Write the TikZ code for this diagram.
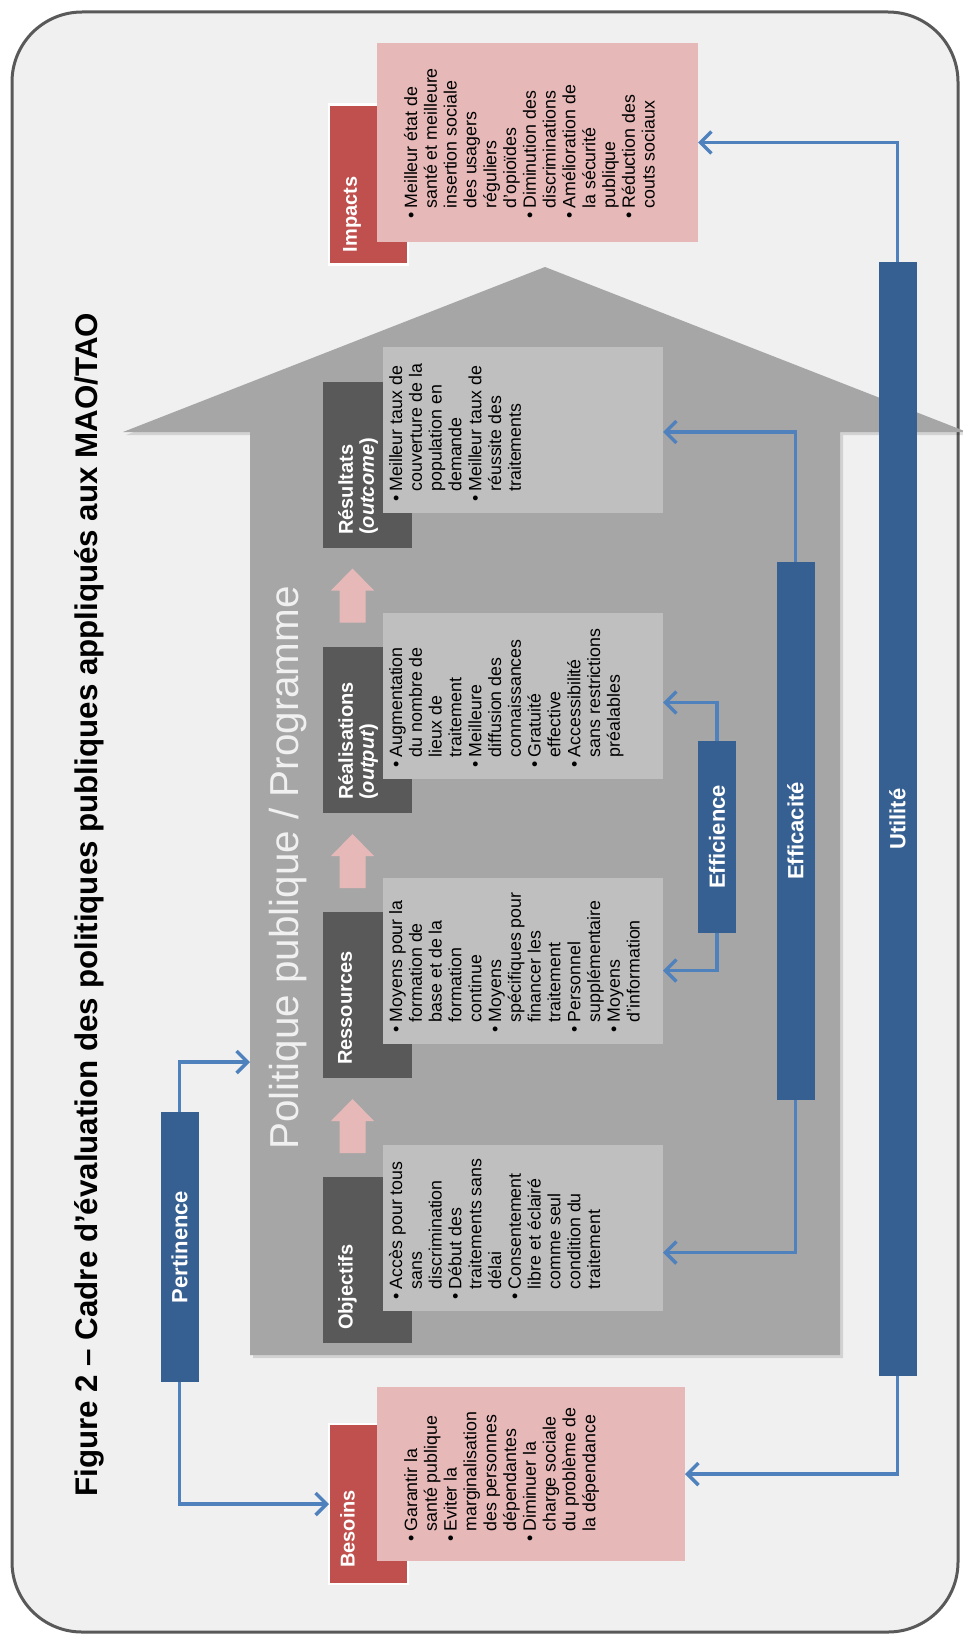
\documentclass[tikz,border=0pt]{standalone}
\usepackage{fontspec}
\setmainfont{Liberation Sans}
\usepackage{xcolor}
\usepackage{tikz}
\usetikzlibrary{arrows.meta,calc}
\definecolor{framefill}{HTML}{F0F0F0}
\definecolor{framedraw}{HTML}{595959}
\definecolor{arrowgray}{HTML}{A6A6A6}
\definecolor{boxgray}{HTML}{BFBFBF}
\definecolor{tabgray}{HTML}{595959}
\definecolor{rosefill}{HTML}{E6B9B8}
\definecolor{tabred}{HTML}{C0504D}
\definecolor{barblue}{HTML}{376092}
\definecolor{lineblue}{HTML}{4F81BD}
\tikzstyle{frame} = [draw=framedraw, fill=framefill, line width=3pt, rounded corners=70pt]
\tikzstyle{lightbox} = [rectangle, fill=boxgray, rotate=90, inner sep=0, outer sep=0, minimum width=166pt, minimum height=280pt]
\tikzstyle{darktab} = [rectangle, fill=tabgray, rotate=90, inner sep=0, outer sep=0, minimum width=166pt, minimum height=89pt]
\tikzstyle{rosebox} = [rectangle, fill=rosefill, rotate=90, inner sep=0, outer sep=0]
\tikzstyle{redtab} = [rectangle, fill=tabred, draw=white, line width=2.5pt, rotate=90, inner sep=0, outer sep=0, minimum width=160pt, minimum height=79pt]
\tikzstyle{bar} = [rectangle, fill=barblue, rotate=90, inner sep=0, outer sep=0, minimum height=38pt, text=white, font=\bfseries\fontsize{22}{24}\selectfont]
\tikzstyle{tablabel} = [rotate=90, anchor=north west, inner sep=0, text=white, align=left, font=\bfseries\fontsize{20}{21}\selectfont]
\tikzstyle{boxtext} = [rotate=90, anchor=north west, inner sep=0, font=\fontsize{17.8}{19.8}\selectfont]
\tikzstyle{figtitle} = [rotate=90, anchor=base west, inner sep=0, font=\bfseries\fontsize{31.3}{36}\selectfont]
\tikzstyle{policy} = [rotate=90, anchor=base west, inner sep=0, text=framefill, font=\fontsize{40.4}{46}\selectfont]
\tikzstyle{line} = [draw=lineblue, line width=3.5pt, -{Straight Barb[length=11pt,width=22pt]}]

\begin{document}
\begin{tikzpicture}[x=1pt, y=-1pt]
\useasboundingbox (0,0) rectangle (962,1635);
\draw [frame] (12,12) rectangle (958,1632);
\node [figtitle] (title) at (97,1497) {Figure 2 – Cadre d’évaluation des politiques publiques appliqués aux MAO/TAO};

% big arrow
\fill [black, opacity=0.12] (548,270) -- (970,435) -- (843,435) -- (843,1358) -- (253,1358) -- (253,435) -- (126,435) -- cycle;
\fill [arrowgray] (545,267) -- (967,432) -- (840,432) -- (840,1355) -- (250,1355) -- (250,432) -- (123,432) -- cycle;
\coordinate (policy-in) at (250,1062);
\node [policy] (policy) at (298,1150) {Politique publique / Programme};

% steps of the programme
\node [darktab] (resultats-tab) at (367.5,465) {};
\node [darktab] (realisations-tab) at (367.5,730) {};
\node [darktab] (ressources-tab) at (367.5,995) {};
\node [darktab] (objectifs-tab) at (367.5,1260) {};
\node [lightbox] (resultats) at (523,430) {};
\node [lightbox] (realisations) at (523,695.5) {};
\node [lightbox] (ressources) at (523,960.5) {};
\node [lightbox] (objectifs) at (523,1227.5) {};
\node [tablabel] (resultats-label) at ($(resultats-tab.north west)+(15,-13)$) {Résultats\\(\textit{outcome})};
\node [tablabel] (realisations-label) at ($(realisations-tab.north west)+(15,-13)$) {Réalisations\\(\textit{output})};
\node [tablabel] (ressources-label) at ($(ressources-tab.north west)+(15,-13)$) {Ressources};
\node [tablabel] (objectifs-label) at ($(objectifs-tab.north west)+(15,-13)$) {Objectifs};

\node [boxtext] (resultats-text) at ($(resultats.north west)+(5,-11)$) {\begin{tabular}{@{}l@{\hspace{4pt}}l@{}}
\textbullet & Meilleur taux de\\ & couverture de la\\ & population en\\ & demande\\
\textbullet & Meilleur taux de\\ & réussite des\\ & traitements
\end{tabular}};
\node [boxtext] (realisations-text) at ($(realisations.north west)+(5,-11)$) {\begin{tabular}{@{}l@{\hspace{4pt}}l@{}}
\textbullet & Augmentation\\ & du nombre de\\ & lieux de\\ & traitement\\
\textbullet & Meilleure\\ & diffusion des\\ & connaissances\\
\textbullet & Gratuité\\ & effective\\
\textbullet & Accessibilité\\ & sans restrictions\\ & préalables
\end{tabular}};
\node [boxtext] (ressources-text) at ($(ressources.north west)+(5,-11)$) {\begin{tabular}{@{}l@{\hspace{4pt}}l@{}}
\textbullet & Moyens pour la\\ & formation de\\ & base et de la\\ & formation\\ & continue\\
\textbullet & Moyens\\ & spécifiques pour\\ & financer les\\ & traitement\\
\textbullet & Personnel\\ & supplémentaire\\
\textbullet & Moyens\\ & d’information
\end{tabular}};
\node [boxtext] (objectifs-text) at ($(objectifs.north west)+(5,-11)$) {\begin{tabular}{@{}l@{\hspace{4pt}}l@{}}
\textbullet & Accès pour tous\\ & sans\\ & discrimination\\
\textbullet & Début des\\ & traitements sans\\ & délai\\
\textbullet & Consentement\\ & libre et éclairé\\ & comme seul\\ & condition du\\ & traitement
\end{tabular}};

% small arrows between the steps
\foreach \yc in {595.5,861,1126}
  \fill [rosefill] (352.5,\yc-27) -- (374,\yc-5) -- (365.5,\yc-5) -- (365.5,\yc+27) -- (339.5,\yc+27) -- (339.5,\yc-5) -- (331,\yc-5) -- cycle;

% needs and impacts
\node [redtab] (impacts-tab) at (368.5,184.5) {};
\node [redtab] (besoins-tab) at (368.5,1504) {};
\node [rosebox, minimum width=199pt, minimum height=321pt] (impacts) at (537.5,142.5) {};
\node [rosebox, minimum width=174pt, minimum height=308pt] (besoins) at (531,1474) {};
\node [tablabel] (impacts-label) at ($(impacts-tab.north west)+(14,-12)$) {Impacts};
\node [tablabel] (besoins-label) at ($(besoins-tab.north west)+(11,-16)$) {Besoins};
\node [boxtext] (impacts-text) at ($(impacts.north west)+(26,-23)$) {\begin{tabular}{@{}l@{\hspace{4pt}}l@{}}
\textbullet & Meilleur état de\\ & santé et meilleure\\ & insertion sociale\\ & des usagers\\ & réguliers\\ & d’opioïdes\\
\textbullet & Diminution des\\ & discriminations\\
\textbullet & Amélioration de\\ & la sécurité\\ & publique\\
\textbullet & Réduction des\\ & couts sociaux
\end{tabular}};
\node [boxtext] (besoins-text) at ($(besoins.north west)+(26,-19)$) {\begin{tabular}{@{}l@{\hspace{4pt}}l@{}}
\textbullet & Garantir la\\ & santé publique\\
\textbullet & Eviter la\\ & marginalisation\\ & des personnes\\ & dépendantes\\
\textbullet & Diminuer la\\ & charge sociale\\ & du problème de\\ & la dépendance
\end{tabular}};

% criteria
\node [bar, minimum width=270pt] (pertinence) at (179.5,1247) {Pertinence};
\node [bar, minimum width=192pt] (efficience) at (717,837) {Efficience};
\node [bar, minimum width=538pt] (efficacite) at (795.5,831) {Efficacité};
\node [bar, minimum width=1114pt] (utilite) at (897.5,819) {Utilité};

\path [line] (pertinence.east) |- (policy-in);
\path [line] (pertinence.west) |- (besoins-tab.north);
\path [line] (utilite.east) |- (impacts.south);
\path [line] (utilite.west) |- (besoins.south);
\path [line] (efficience.east) |- ($(realisations.south)+(0,7)$);
\path [line] (efficience.west) |- ($(ressources.south)+(0,10)$);
\path [line] (efficacite.east) |- ($(resultats.south)+(0,2)$);
\path [line] (efficacite.west) |- ($(objectifs.south)+(0,25)$);
\end{tikzpicture}
\end{document}
